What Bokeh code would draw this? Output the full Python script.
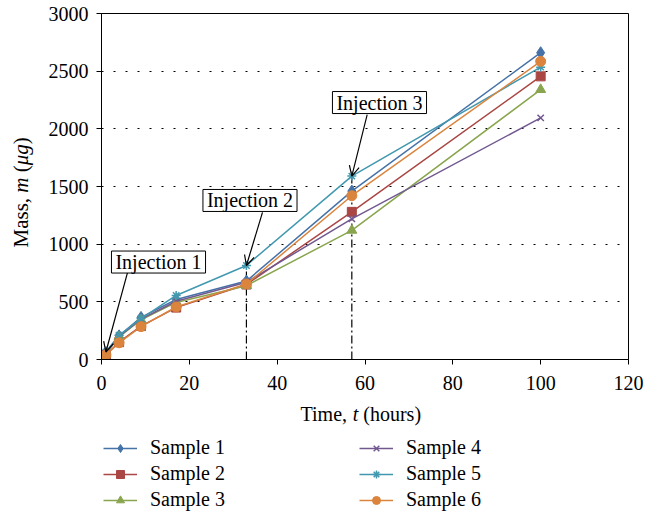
from bokeh.plotting import figure
from bokeh.layouts import column, row
from bokeh.models import (Legend, LegendItem, Label, Arrow, OpenHead, FixedTicker, Range1d)
from bokeh.embed import file_html
from bokeh.resources import INLINE

# ---- data ----
time_h = [0, 1, 4, 9, 17, 33, 57, 100]
sample1 = [10, 60, 205, 365, 520, 680, 1460, 2660]
sample2 = [5, 40, 150, 290, 450, 650, 1280, 2455]
sample3 = [5, 50, 195, 345, 495, 640, 1120, 2340]
sample4 = [5, 55, 200, 350, 505, 670, 1220, 2095]
sample5 = [10, 65, 210, 355, 555, 815, 1590, 2535]
sample6 = [5, 40, 145, 285, 455, 655, 1420, 2585]
series_names = ["Sample 1", "Sample 2", "Sample 3", "Sample 4", "Sample 5", "Sample 6"]
x_ticks = [0, 20, 40, 60, 80, 100, 120]
y_ticks = [0, 500, 1000, 1500, 2000, 2500, 3000]
injection_labels = ["Injection 1", "Injection 2", "Injection 3"]
injection_idx = [1, 5, 6]          # data points the arrows point to (Sample 5)
dashline_idx = [5, 6]              # vertical dash-dot lines
x_title = [("Time,", "normal"), ("t", "italic"), ("(hours)", "normal")]
y_title = [("Mass,", "normal"), ("m", "italic"), ("(", "normal"), ("μg", "italic"), (")", "normal")]

FONT = "Liberation Serif"
FS = "20px"
LEFT_W = 45

p = figure(width=653 - LEFT_W, height=400, x_range=Range1d(0, 120), y_range=Range1d(0, 3000),
           output_backend="svg", toolbar_location=None,
           min_border_left=101 - LEFT_W, min_border_right=25, min_border_top=13, min_border_bottom=41)
p.background_fill_color = "white"
p.border_fill_color = "white"
p.outline_line_color = "black"
p.outline_line_width = 1
p.outline_line_alpha = 1

p.xgrid.visible = False
p.ygrid.ticker = FixedTicker(ticks=y_ticks)
p.ygrid.grid_line_color = "black"
p.ygrid.grid_line_dash = "2 10"
p.ygrid.grid_line_width = 1

p.xaxis.ticker = FixedTicker(ticks=x_ticks)
p.yaxis.ticker = FixedTicker(ticks=y_ticks)
for ax in (p.xaxis[0], p.yaxis[0]):
    ax.axis_line_color = "black"
    ax.major_tick_line_color = "black"
    ax.major_tick_out = 5
    ax.major_tick_in = 0
    ax.minor_tick_out = 0
    ax.minor_tick_in = 0
    ax.major_label_text_font = FONT
    ax.major_label_text_font_size = FS
    ax.major_label_text_color = "black"
p.yaxis.major_label_standoff = 8
p.xaxis.major_label_standoff = 11

# vertical dash-dot lines at injection times
all_series = [sample1, sample2, sample3, sample4, sample5, sample6]
dx = [time_h[i] for i in dashline_idx]
dtop = [max(s[i] for s in all_series) for i in dashline_idx]
p.segment(x0=dx, y0=[0] * len(dx), x1=dx, y1=dtop, line_color="black",
          line_width=1.2, line_dash="8 3 2 3")

colors = ["#4572A7", "#AA4643", "#89A54E", "#71588F", "#4198AF", "#DB843D"]
markers = ["diamond", "square", "triangle", "x", "asterisk", "circle"]
sizes = [12, 9, 10, 9, 9, 10]


def add_series(fig, xs, ys, c, m, sz):
    l = fig.line(xs, ys, line_color=c, line_width=1.5)
    if m in ("x", "asterisk"):
        s = fig.scatter(xs, ys, marker=m, size=sz, line_color=c, line_width=1.5, fill_color=None)
    else:
        s = fig.scatter(xs, ys, marker=m, size=sz, line_color=c, fill_color=c)
    return l, s


for ys, c, m, sz in zip(all_series, colors, markers, sizes):
    add_series(p, time_h, ys, c, m, sz)

# injection annotations
label_pos = [(12.98, 845), (33.81, 1379), (63.30, 2228)]
arrow_start = [(5.92, 754), (36.66, 1275), (60.5, 2124)]
for txt, (lx, ly), (ax0, ay0), idx in zip(injection_labels, label_pos, arrow_start, injection_idx):
    p.add_layout(Arrow(x_start=ax0, y_start=ay0, x_end=time_h[idx], y_end=sample5[idx],
                       line_color="black", line_width=1.2,
                       end=OpenHead(size=10, line_color="black", line_width=1.2)))
    p.add_layout(Label(x=lx, y=ly, text=txt, text_align="center", text_baseline="middle",
                       text_font=FONT, text_font_size=FS, text_color="black",
                       background_fill_color="white", border_line_color="black",
                       border_line_width=1, padding=(4, 0)))

# ---- left strip: y-axis title with italic symbols ----
ls = figure(width=LEFT_W, height=400, x_range=Range1d(0, LEFT_W), y_range=Range1d(0, 3000),
            output_backend="svg", toolbar_location=None, x_axis_type=None, y_axis_type=None,
            min_border_left=0, min_border_right=0, min_border_top=13, min_border_bottom=41)
ls.outline_line_color = None
ls.grid.visible = False
ls.border_fill_color = "white"
y_offsets = [-61.0, -6.2, 14.2, 21.2, 42.2]
for (txt, style), off in zip(y_title, y_offsets):
    ls.add_layout(Label(x=20, y=1500, y_offset=off, text=txt, angle=1.5707963,
                        text_align="left", text_baseline="alphabetic",
                        text_font=FONT, text_font_size="21px", text_font_style=style,
                        text_color="black"))

# ---- bottom strip: x-axis title and legend (its series lie far outside its range) ----
lg = figure(width=653 - LEFT_W, height=112, x_range=Range1d(0, 120), y_range=Range1d(-1112, -1000),
            output_backend="svg", toolbar_location=None, x_axis_type=None, y_axis_type=None,
            min_border=0)
lg.outline_line_color = None
lg.grid.visible = False
lg.background_fill_color = "white"
lg.border_fill_color = "white"

x_offsets = [-64.5, -12.3, -1.7]
for (txt, style), off in zip(x_title, x_offsets):
    lg.add_layout(Label(x=60, y=-1013, x_offset=off, text=txt,
                        text_align="left", text_baseline="alphabetic",
                        text_font=FONT, text_font_size=FS, text_font_style=style,
                        text_color="black"))

items = []
for ys, name, c, m, sz in zip(all_series, series_names, colors, markers, sizes):
    l, s = add_series(lg, time_h, ys, c, m, sz)
    items.append(LegendItem(label=name, renderers=[l, s]))

for col_items, vx in ((items[:3], 2), (items[3:], 258)):
    leg = Legend(items=col_items, location=(vx, 1), orientation="vertical",
                 glyph_width=34, glyph_height=20, label_height=20,
                 label_standoff=13, spacing=3, padding=0, margin=0,
                 label_text_font=FONT, label_text_font_size=FS, label_text_color="black",
                 border_line_color=None, background_fill_alpha=0)
    lg.add_layout(leg, "center")

open("out.html", "w").write(file_html(row(ls, column(p, lg)), INLINE))
